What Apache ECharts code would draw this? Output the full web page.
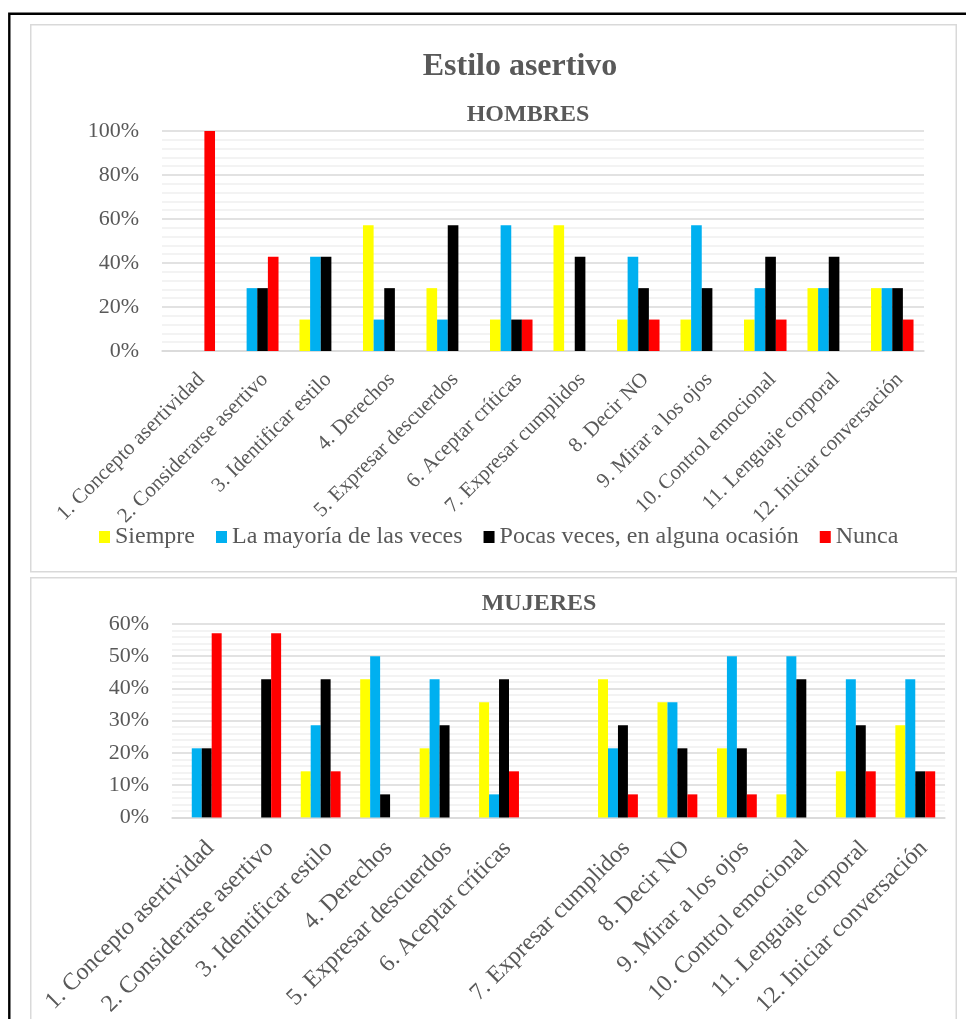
<!DOCTYPE html>
<html>
<head>
<meta charset="utf-8">
<title>Estilo asertivo</title>
<script src="https://cdn.jsdelivr.net/npm/echarts@6/dist/echarts.min.js"></script>
<style>
  html, body { margin: 0; padding: 0; background: #ffffff; }
  #chart { width: 966px; height: 1019px; }
</style>
</head>
<body>
<div id="chart"></div>
<script>
// Ítems del cuestionario de estilo asertivo
const categoriasHombres = [
  '1. Concepto asertividad', '2. Considerarse asertivo', '3. Identificar estilo',
  '4. Derechos', '5. Expresar descuerdos', '6. Aceptar críticas',
  '7. Expresar cumplidos', '8. Decir NO', '9. Mirar a los ojos',
  '10. Control emocional', '11. Lenguaje corporal', '12. Iniciar conversación'
];
// En el gráfico de mujeres hay una categoría vacía entre el ítem 6 y el 7
const categoriasMujeres = [
  '1. Concepto asertividad', '2. Considerarse asertivo', '3. Identificar estilo',
  '4. Derechos', '5. Expresar descuerdos', '6. Aceptar críticas', '',
  '7. Expresar cumplidos', '8. Decir NO', '9. Mirar a los ojos',
  '10. Control emocional', '11. Lenguaje corporal', '12. Iniciar conversación'
];

const respuestas = ['Siempre', 'La mayoría de las veces', 'Pocas veces, en alguna ocasión', 'Nunca'];
const coloresRespuestas = ['#FFFF00', '#00B0F0', '#000000', '#FF0000'];

// Porcentajes HOMBRES
const siempreHombres = [0, 0, 14.29, 57.14, 28.57, 14.29, 57.14, 14.29, 14.29, 14.29, 28.57, 28.57];
const mayoriaHombres = [0, 28.57, 42.86, 14.29, 14.29, 57.14, 0, 42.86, 57.14, 28.57, 28.57, 28.57];
const pocasHombres   = [0, 28.57, 42.86, 28.57, 57.14, 14.29, 42.86, 28.57, 28.57, 42.86, 42.86, 28.57];
const nuncaHombres   = [100, 42.86, 0, 0, 0, 14.29, 0, 14.29, 0, 14.29, 0, 14.29];

// Porcentajes MUJERES
const siempreMujeres = [0, 0, 14.29, 42.86, 21.43, 35.71, null, 42.86, 35.71, 21.43, 7.14, 14.29, 28.57];
const mayoriaMujeres = [21.43, 0, 28.57, 50, 42.86, 7.14, null, 21.43, 35.71, 50, 50, 42.86, 42.86];
const pocasMujeres   = [21.43, 42.86, 42.86, 7.14, 28.57, 42.86, null, 28.57, 21.43, 21.43, 42.86, 28.57, 14.29];
const nuncaMujeres   = [57.14, 57.14, 14.29, 0, 0, 14.29, null, 7.14, 7.14, 7.14, 0, 14.29, 14.29];

// Marcas del eje vertical
const ticksHombres = [0, 20, 40, 60, 80, 100];
const ticksMujeres = [0, 10, 20, 30, 40, 50, 60];

const datosHombres = [siempreHombres, mayoriaHombres, pocasHombres, nuncaHombres];
const datosMujeres = [siempreMujeres, mayoriaMujeres, pocasMujeres, nuncaMujeres];

const FUENTE = '"Liberation Serif", "Times New Roman", serif';
const GRIS_TEXTO = '#595959';

function ejeY(gridIndex, ticks) {
  return {
    type: 'value',
    gridIndex: gridIndex,
    min: ticks[0],
    max: ticks[ticks.length - 1],
    interval: ticks[1] - ticks[0],
    axisLine: { show: false },
    axisTick: { show: false },
    axisLabel: {
      formatter: '{value}%',
      color: GRIS_TEXTO,
      fontFamily: FUENTE,
      fontSize: 22,
      margin: 23
    },
    splitLine: { show: true, lineStyle: { color: '#d9d9d9', width: 1.5 } },
    minorTick: { show: false, splitNumber: 5 },
    minorSplitLine: { show: true, lineStyle: { color: '#efefef', width: 1.5 } }
  };
}

function ejeX(gridIndex, categorias, tamLetra, margen) {
  return {
    type: 'category',
    gridIndex: gridIndex,
    data: categorias,
    axisTick: { show: false },
    axisLine: { show: true, lineStyle: { color: '#d9d9d9', width: 1.5 } },
    axisLabel: {
      interval: 0,
      rotate: 45,
      verticalAlign: 'top',
      margin: margen,
      color: GRIS_TEXTO,
      fontFamily: FUENTE,
      fontSize: tamLetra
    }
  };
}

const series = [];
respuestas.forEach(function (nombre, i) {
  series.push({
    name: nombre,
    type: 'bar',
    xAxisIndex: 0,
    yAxisIndex: 0,
    data: datosHombres[i],
    itemStyle: { color: coloresRespuestas[i] },
    barGap: '0%',
    barCategoryGap: '33%'
  });
});
respuestas.forEach(function (nombre, i) {
  series.push({
    name: nombre,
    type: 'bar',
    xAxisIndex: 1,
    yAxisIndex: 1,
    data: datosMujeres[i],
    itemStyle: { color: coloresRespuestas[i] },
    barGap: '0%',
    barCategoryGap: '33%'
  });
});

const chart = echarts.init(document.getElementById('chart'), null, { renderer: 'canvas' });

chart.setOption({
  animation: false,
  backgroundColor: '#ffffff',
  color: coloresRespuestas,
  title: [
    {
      text: 'Estilo asertivo',
      left: 515, top: 46, textAlign: 'center',
      textStyle: { fontFamily: FUENTE, fontSize: 32, fontWeight: 'bold', color: GRIS_TEXTO }
    },
    {
      text: 'HOMBRES',
      left: 523, top: 98, textAlign: 'center',
      textStyle: { fontFamily: FUENTE, fontSize: 24, fontWeight: 'bold', color: GRIS_TEXTO }
    },
    {
      text: 'MUJERES',
      left: 534, top: 587, textAlign: 'center',
      textStyle: { fontFamily: FUENTE, fontSize: 24, fontWeight: 'bold', color: GRIS_TEXTO }
    }
  ],
  legend: {
    data: respuestas,
    left: 99,
    top: 525,
    padding: 0,
    icon: 'rect',
    itemWidth: 11,
    itemHeight: 12,
    itemGap: 21,
    textStyle: { fontFamily: FUENTE, fontSize: 24, color: GRIS_TEXTO }
  },
  grid: [
    { left: 162, right: 42, top: 131, height: 220, containLabel: false },
    { left: 172, right: 21, top: 624, height: 196, containLabel: false }
  ],
  xAxis: [
    ejeX(0, categoriasHombres, 21, 18),
    ejeX(1, categoriasMujeres, 24, 19)
  ],
  yAxis: [
    ejeY(0, ticksHombres),
    ejeY(1, ticksMujeres)
  ],
  series: series,
  graphic: [
    {
      type: 'rect',
      shape: { x: 30.75, y: 24.75, width: 925.5, height: 547 },
      style: { fill: null, stroke: '#d9d9d9', lineWidth: 1.5 },
      silent: true
    },
    {
      type: 'rect',
      shape: { x: 30.75, y: 577.75, width: 925.5, height: 460 },
      style: { fill: null, stroke: '#d9d9d9', lineWidth: 1.5 },
      silent: true
    },
    {
      type: 'polyline',
      shape: { points: [[9.3, 1030], [9.3, 13.8], [980, 13.8]] },
      style: { fill: null, stroke: '#000000', lineWidth: 2.4 },
      silent: true
    }
  ]
});
</script>
</body>
</html>
